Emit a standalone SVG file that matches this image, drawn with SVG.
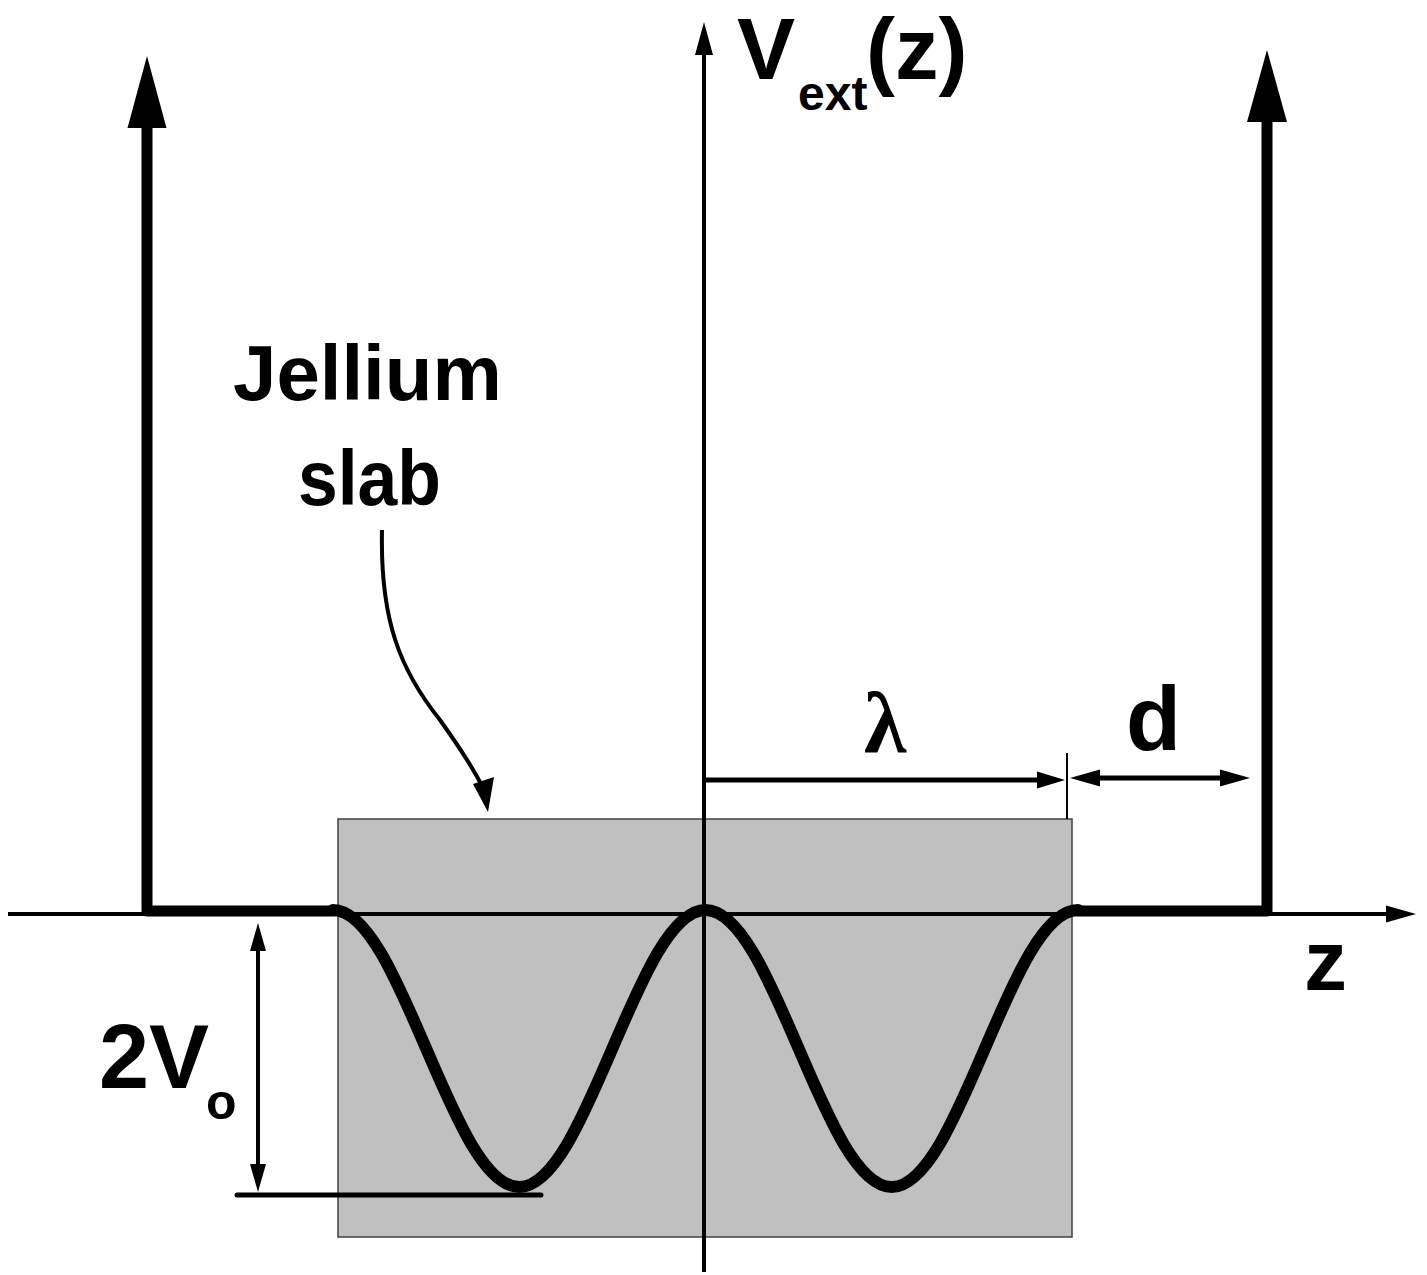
<svg xmlns="http://www.w3.org/2000/svg" width="1427" height="1275" viewBox="0 0 1427 1275">
<style>
.t{font-family:"Liberation Sans",Arial,sans-serif;font-weight:bold;fill:#000}
.s{font-family:"Liberation Serif","Times New Roman",serif;fill:#000}
.thick{fill:none;stroke:#000;stroke-width:11;stroke-linejoin:round;stroke-linecap:round}
.ax{stroke:#000;stroke-width:4;fill:none}
.dim{stroke:#000;stroke-width:5;fill:none}
.head{fill:#000}
</style>
<rect width="1427" height="1275" fill="#fff"/>
<g id="slab">
<rect x="338" y="819" width="734" height="418" fill="#c0c0c0" stroke="#404040" stroke-width="1.5"/>
</g>
<g id="connectors">
<line class="ax" x1="8" y1="914" x2="1392" y2="914"/>
<polygon class="head" points="1416,914 1386,905.5 1386,922.5"/>
<line class="ax" x1="704" y1="1272" x2="704" y2="50"/>
<polygon class="head" points="704,22 695,55 713,55"/>
<path class="thick" d="M147,125 L147,911 L333,911"/>
<polygon class="head" points="147,56 127.5,128 166.5,128"/>
<path class="thick" d="M1078,911 L1267,911 L1267,118"/>
<polygon class="head" points="1267,50 1247,122 1287,122"/>
<path class="thick" style="stroke-width:12" d="M333,910 C400.7,910 451.5,1187 519.25,1187 C587,1187 637.8,910 705.5,910 C773.2,910 824,1187 891.75,1187 C959.5,1187 1010.3,910 1078,910"/>
<line class="dim" x1="706" y1="780" x2="1040" y2="780"/>
<polygon class="head" points="1065,780 1037,771.5 1037,788.5"/>
<line stroke="#000" stroke-width="2" x1="1067" y1="753" x2="1067" y2="819"/>
<line class="dim" x1="1095" y1="778" x2="1225" y2="778"/>
<polygon class="head" points="1070,778 1100,769.5 1100,786.5"/>
<polygon class="head" points="1250,778 1220,769.5 1220,786.5"/>
<line class="ax" x1="258" y1="945" x2="258" y2="1170"/>
<polygon class="head" points="258,923 250,951 266,951"/>
<polygon class="head" points="258,1192 250,1164 266,1164"/>
<line stroke="#000" stroke-width="5" stroke-linecap="round" x1="237" y1="1195" x2="541" y2="1195"/>
<path fill="none" stroke="#000" stroke-width="4" d="M382,530 C380,620 400,670 440,720 C460,748 474,770 482,786"/>
<polygon class="head" points="488,812 473,784 494,777"/>
</g>
<g id="labels">
<text class="t" x="737" y="79" font-size="87">V</text>
<text class="t" x="798" y="110" font-size="48">ext</text>
<text class="t" x="866" y="79" font-size="87">(z)</text>
<text class="t" x="233" y="400" font-size="78">Jellium</text>
<text class="t" x="298" y="505" font-size="78" textLength="143" lengthAdjust="spacingAndGlyphs">slab</text>
<text class="s" x="885" y="752" font-size="86" text-anchor="middle" font-weight="bold">λ</text>
<text class="t" x="1126" y="750" font-size="90">d</text>
<text class="t" x="1304" y="990" font-size="86">z</text>
<text class="t" x="99" y="1088" font-size="90">2V</text>
<text class="t" x="206" y="1119" font-size="50">o</text>
</g>
</svg>
